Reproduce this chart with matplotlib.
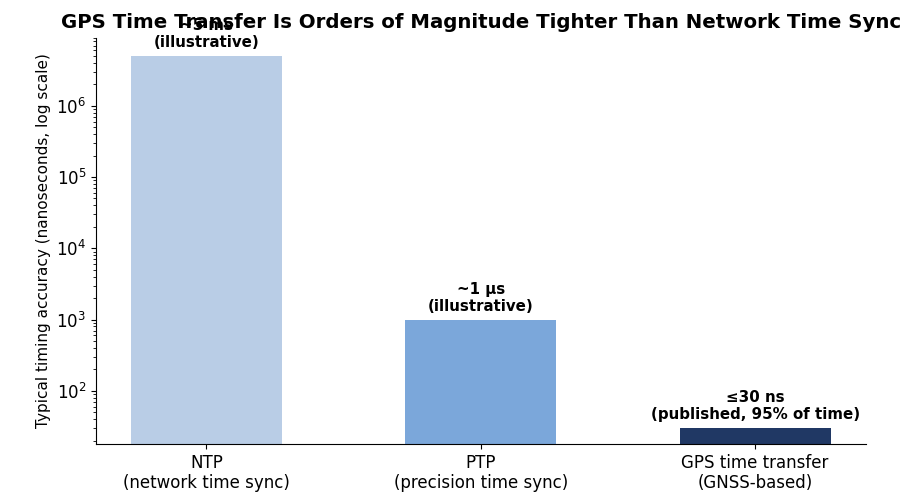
import matplotlib
matplotlib.use("Agg")
import matplotlib.pyplot as plt

# data
categories = ["NTP\n(network time sync)", "PTP\n(precision time sync)", "GPS time transfer\n(GNSS-based)"]
accuracy_ns = [5e6, 1e3, 30]
bar_labels = ["~5 ms\n(illustrative)", "~1 µs\n(illustrative)", "≤30 ns\n(published, 95% of time)"]
bar_colors = ["#b9cde6", "#7ba7da", "#203864"]

fig, ax = plt.subplots(figsize=(9.14, 4.97), dpi=100)
x = list(range(len(categories)))
bars = ax.bar(x, accuracy_ns, width=0.55, color=bar_colors)
ax.set_yscale("log")
ax.set_ylim(min(accuracy_ns) * 0.6, max(accuracy_ns) * 1.8)

# value labels above each bar
for b, lab in zip(bars, bar_labels):
    ax.annotate(lab, (b.get_x() + b.get_width() / 2, b.get_height()),
                xytext=(0, 4), textcoords="offset points",
                ha="center", va="bottom", fontsize=10.8, fontweight="bold")

ax.set_xticks(x)
ax.set_xticklabels(categories, fontsize=12)
ax.tick_params(axis="y", labelsize=12)
ax.set_ylabel("Typical timing accuracy (nanoseconds, log scale)", fontsize=11)
ax.set_title("GPS Time Transfer Is Orders of Magnitude Tighter Than Network Time Sync",
             fontsize=14.2, fontweight="bold", pad=7)
ax.spines["top"].set_visible(False)
ax.spines["right"].set_visible(False)

fig.subplots_adjust(left=0.105, right=0.947, bottom=0.107, top=0.924)
fig.savefig("out.png", dpi=100)
